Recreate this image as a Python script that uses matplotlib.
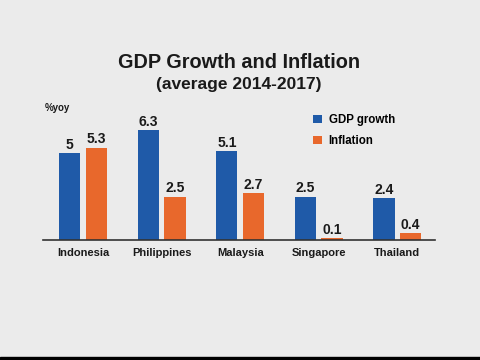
import matplotlib
matplotlib.use("Agg")
import matplotlib.pyplot as plt
import numpy as np

# data
countries = ["Indonesia", "Philippines", "Malaysia", "Singapore", "Thailand"]
gdp_growth = [5, 6.3, 5.1, 2.5, 2.4]
inflation = [5.3, 2.5, 2.7, 0.1, 0.4]
value_labels_gdp = ["5", "6.3", "5.1", "2.5", "2.4"]
value_labels_inf = ["5.3", "2.5", "2.7", "0.1", "0.4"]

blue = "#1f5aa8"
orange = "#e8682c"
bg = "#ebebeb"
txt = "#1a1a1a"

plt.rcParams["font.family"] = ["Liberation Sans", "DejaVu Sans"]

fig = plt.figure(figsize=(4.8, 3.6), dpi=100, facecolor=bg)

# black strip at the bottom like the video frame
fig.patches.append(plt.Rectangle((0, 0), 1, 3 / 360, transform=fig.transFigure,
                                 color="black", zorder=0))

ax = fig.add_axes([43 / 480, 120 / 360, 392 / 480, 140 / 360])
ax.set_facecolor(bg)

x = np.arange(len(countries))
w = 0.27
off = 0.17
ax.bar(x - off, gdp_growth, w, color=blue, label="GDP growth")
ax.bar(x + off, inflation, w, color=orange, label="Inflation")

for xi, v, s in zip(x, gdp_growth, value_labels_gdp):
    ax.annotate(s, (xi - off, v), xytext=(0, 1), textcoords="offset points",
                ha="center", va="bottom", fontsize=10, fontweight="bold", color=txt)
for xi, v, s in zip(x, inflation, value_labels_inf):
    ax.annotate(s, (xi + off, v), xytext=(0, 1), textcoords="offset points",
                ha="center", va="bottom", fontsize=10, fontweight="bold", color=txt)

ax.set_xlim(-0.51, 4.48)
ax.set_ylim(0, 8.05)
ax.set_xticks(x)
ax.set_xticklabels(countries, fontsize=8, fontweight="bold", color=txt)
ax.tick_params(axis="x", length=0, pad=5.5)
ax.set_yticks([])
for s in ["top", "right", "left"]:
    ax.spines[s].set_visible(False)
ax.spines["bottom"].set_color("#333333")
ax.spines["bottom"].set_linewidth(1.2)

# titles
fig.text(0.498, 1 - 63 / 360, "GDP Growth and Inflation", ha="center", va="center",
         fontsize=14.3, fontweight="bold", color=txt)
fig.text(0.498, 1 - 85 / 360, "(average 2014-2017)", ha="center", va="center",
         fontsize=12.5, fontweight="bold", color=txt)
fig.text(45 / 480, 1 - 108 / 360, "%yoy", ha="left", va="center",
         fontsize=7, fontweight="bold", color=txt)

leg = ax.legend(loc="upper left", bbox_to_anchor=(313 / 480, 1 - 114 / 360),
                bbox_transform=fig.transFigure, frameon=False,
                prop={"size": 8.3, "weight": "bold"},
                handlelength=0.75, handleheight=0.75, handletextpad=0.6,
                labelspacing=0.8, borderpad=0, borderaxespad=0)

fig.savefig("out.png", dpi=100, facecolor=bg)
